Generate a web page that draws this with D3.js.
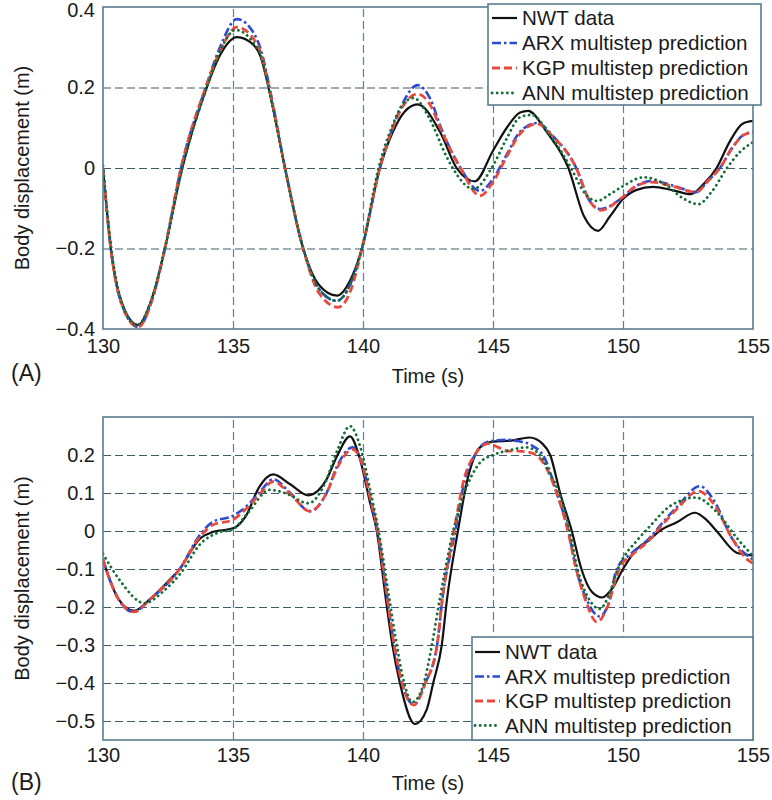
<!DOCTYPE html>
<html lang="en">
<head>
<meta charset="UTF-8">
<title>Body displacement - multistep prediction</title>
<script src="https://d3js.org/d3.v7.min.js"></script>
<style>
body { margin: 0; background: #fff; }
svg text { font-family: "Liberation Sans", Arial, Helvetica, sans-serif; fill: #1a1a1a; }
.tick text { font-size: 20px; }
.hgrid line { stroke: #3f5c68; stroke-dasharray: 8,4; stroke-width: 1.2; }
.vgrid line { stroke: #4a86aa; stroke-dasharray: 8,4; stroke-width: 1.2; }
.frame { fill: none; stroke: #587d8e; stroke-width: 1.6; }
.legend rect { fill: #fff; stroke: #587d8e; stroke-width: 1.6; }
</style>
</head>
<body>
<svg id="chart" width="772" height="800"></svg>
<script>
// ---------- data (time in s, displacement in m) ----------
var seriesNames = ["NWT data", "ARX multistep prediction", "KGP multistep prediction", "ANN multistep prediction"];
var xTicks = [130, 135, 140, 145, 150, 155];
var yTicksA = [0.4, 0.2, 0, -0.2, -0.4];
var yTicksB = [0.2, 0.1, 0, -0.1, -0.2, -0.3, -0.4, -0.5];

// panel (A)
var nwtA = [[130,0],[130.3,-0.2],[130.7,-0.33],[131.35,-0.39],[131.9,-0.32],[132.38,-0.2],[133.05,0],[133.99,0.2],[134.5,0.28],[135.15,0.325],
  [135.8,0.305],[136.04,0.28],[136.5,0.16],[137.0,0],[137.7,-0.2],[138.3,-0.29],[139.0,-0.317],[139.5,-0.28],[139.96,-0.2],[140.65,0],
  [141.15,0.09],[141.6,0.14],[142.1,0.158],[142.96,0.09],[143.6,0],[144.3,-0.033],[145.0,0.043],[145.53,0.1],[146.04,0.138],[146.35,0.142],
  [147.07,0.089],[147.9,0],[148.5,-0.12],[149.04,-0.156],[149.5,-0.12],[150.0,-0.077],[150.5,-0.055],[151.15,-0.047],[151.9,-0.055],[152.6,-0.065],
  [153.1,-0.04],[153.6,0],[154.1,0.065],[154.6,0.11],[155,0.117]];
var arxA = [[130,0],[130.3,-0.2],[130.7,-0.335],[131.35,-0.395],[131.9,-0.325],[132.38,-0.2],[133.0,0],[133.95,0.2],[134.5,0.3],[135.15,0.37],
  [135.8,0.335],[136.04,0.3],[136.5,0.17],[137.0,0],[137.7,-0.2],[138.3,-0.3],[139.0,-0.33],[139.5,-0.29],[139.96,-0.2],[140.65,0],
  [141.15,0.1],[141.6,0.17],[142.1,0.206],[142.6,0.17],[143.0,0.1],[143.75,0],[144.5,-0.057],[145.0,-0.027],[145.5,0.03],[146.04,0.09],
  [146.7,0.112],[147.3,0.08],[148.2,0],[148.7,-0.08],[149.15,-0.102],[149.9,-0.077],[150.5,-0.045],[151.1,-0.032],[152.0,-0.045],[152.8,-0.06],
  [153.3,-0.03],[153.73,0],[154.2,0.05],[154.7,0.085],[155,0.089]];
var kgpA = [[130,0],[130.3,-0.2],[130.7,-0.335],[131.35,-0.395],[131.9,-0.325],[132.38,-0.2],[133.0,0],[133.95,0.2],[134.5,0.29],[135.15,0.35],
  [135.8,0.32],[136.04,0.29],[136.5,0.165],[137.0,0],[137.7,-0.2],[138.3,-0.31],[139.05,-0.346],[139.55,-0.3],[139.96,-0.2],[140.65,0],
  [141.15,0.1],[141.6,0.16],[142.1,0.184],[142.6,0.155],[143.0,0.095],[143.75,0],[144.5,-0.069],[145.0,-0.035],[145.5,0.025],[146.04,0.085],
  [146.7,0.11],[147.3,0.078],[148.2,0],[148.7,-0.08],[149.15,-0.105],[149.9,-0.077],[150.5,-0.045],[151.1,-0.035],[152.0,-0.047],[152.8,-0.06],
  [153.3,-0.03],[153.73,0],[154.2,0.05],[154.7,0.084],[155,0.088]];
var annA = [[130,0.005],[130.3,-0.19],[130.7,-0.33],[131.3,-0.39],[131.9,-0.32],[132.38,-0.2],[133.05,0],[133.99,0.2],[134.5,0.29],[135.1,0.343],
  [135.8,0.31],[136.04,0.285],[136.5,0.16],[137.0,0],[137.7,-0.2],[138.3,-0.3],[139.0,-0.33],[139.5,-0.29],[139.96,-0.2],[140.6,0],
  [141.1,0.1],[141.5,0.155],[141.95,0.174],[142.5,0.13],[143.2,0.03],[143.45,0],[144.25,-0.052],[145.0,0.006],[145.5,0.07],[146.04,0.126],
  [146.5,0.132],[147.1,0.09],[148.0,0],[148.5,-0.06],[149.0,-0.082],[149.5,-0.065],[150.0,-0.045],[150.8,-0.023],[151.6,-0.04],[152.3,-0.075],
  [152.9,-0.09],[153.4,-0.06],[154.0,0],[154.5,0.04],[155,0.064]];

// panel (B)
var nwtB = [[130,-0.075],[130.27,-0.13],[130.6,-0.18],[131.2,-0.21],[131.8,-0.18],[132.4,-0.14],[132.95,-0.1],[133.73,-0.02],[134.2,-0.003],[135.0,0.007],
  [135.5,0.04],[136.0,0.115],[136.55,0.149],[137.2,0.123],[137.9,0.094],[138.6,0.136],[139.0,0.197],[139.5,0.249],[139.88,0.19],[140.27,0.075],
  [140.53,0],[140.88,-0.18],[141.13,-0.3],[141.42,-0.4],[142.0,-0.508],[142.45,-0.47],[142.7,-0.4],[143.03,-0.3],[143.23,-0.18],[143.65,0],
  [144.0,0.13],[144.5,0.22],[145.0,0.235],[145.7,0.238],[146.4,0.246],[146.9,0.23],[147.2,0.2],[147.58,0.1],[148.03,0],[148.4,-0.1],
  [148.8,-0.16],[149.2,-0.175],[149.6,-0.15],[150.0,-0.1],[150.5,-0.05],[151.04,-0.022],[151.4,0],[152.07,0.023],[152.77,0.048],[153.2,0.03],
  [153.6,0],[154.37,-0.057],[154.8,-0.063],[155,-0.065]];
var arxB = [[130,-0.075],[130.27,-0.13],[130.6,-0.18],[131.17,-0.213],[131.8,-0.18],[132.95,-0.1],[133.73,-0.01],[134.2,0.023],[135.0,0.04],[135.6,0.07],
  [136.0,0.1],[136.55,0.136],[137.2,0.1],[137.96,0.052],[138.6,0.1],[139.0,0.17],[139.6,0.22],[139.95,0.18],[140.3,0.08],[140.55,0],
  [140.9,-0.16],[141.15,-0.28],[141.5,-0.4],[141.95,-0.456],[142.4,-0.4],[142.85,-0.3],[143.05,-0.18],[143.55,0],[143.9,0.13],[144.3,0.2],
  [144.8,0.235],[145.5,0.24],[146.0,0.236],[146.5,0.225],[147.0,0.19],[147.45,0.1],[147.9,0],[148.2,-0.1],[148.6,-0.18],[149.1,-0.225],
  [149.45,-0.19],[149.76,-0.1],[150.3,-0.06],[151.0,-0.02],[151.5,0.02],[152.1,0.065],[152.96,0.118],[153.5,0.08],[154.2,-0.02],[154.7,-0.06],[155,-0.075]];
var kgpB = [[130,-0.075],[130.27,-0.13],[130.6,-0.18],[131.2,-0.213],[131.8,-0.18],[132.95,-0.1],[133.73,-0.015],[134.2,0.015],[135.0,0.03],[135.6,0.065],
  [136.0,0.095],[136.55,0.13],[137.2,0.097],[137.96,0.052],[138.6,0.1],[139.0,0.165],[139.6,0.215],[139.95,0.18],[140.3,0.08],[140.57,0],
  [140.9,-0.16],[141.15,-0.28],[141.5,-0.4],[141.95,-0.458],[142.4,-0.4],[142.85,-0.3],[143.05,-0.18],[143.5,0],[143.9,0.14],[144.3,0.2],
  [144.8,0.23],[145.2,0.22],[145.6,0.21],[146.0,0.21],[146.5,0.205],[146.93,0.18],[147.45,0.1],[147.88,0],[148.2,-0.1],[148.6,-0.19],
  [149.0,-0.24],[149.4,-0.2],[149.85,-0.1],[150.4,-0.06],[151.0,-0.025],[151.5,0.015],[152.1,0.06],[152.9,0.105],[153.5,0.07],[154.2,-0.02],
  [154.7,-0.07],[155,-0.085]];
var annB = [[130,-0.06],[130.65,-0.13],[131.6,-0.19],[132.3,-0.16],[133.0,-0.11],[133.73,-0.035],[134.4,-0.005],[135.0,0.005],[135.6,0.05],[136.4,0.108],
  [137.0,0.1],[137.9,0.073],[138.5,0.12],[139.0,0.21],[139.5,0.276],[139.9,0.22],[140.3,0.1],[140.6,0],[140.95,-0.15],[141.25,-0.28],
  [141.55,-0.39],[141.9,-0.45],[142.3,-0.41],[142.65,-0.3],[142.95,-0.18],[143.47,0],[143.9,0.1],[144.5,0.18],[145.0,0.2],[145.6,0.212],
  [146.3,0.22],[146.8,0.2],[147.2,0.15],[147.55,0.1],[147.95,0],[148.25,-0.1],[148.7,-0.18],[149.1,-0.205],[149.45,-0.17],[149.8,-0.1],
  [150.6,-0.02],[151.0,0.01],[151.8,0.065],[152.8,0.088],[153.6,0.05],[154.4,-0.02],[155,-0.066]];

// ---------- drawing ----------
var svg = d3.select("#chart");
var styles = [
  {color: "#111111", width: 2.2, dash: null, cap: "butt"},
  {color: "#2a4bd2", width: 2.6, dash: "9,3,2.5,3", cap: "butt"},
  {color: "#e84b3c", width: 2.8, dash: "8,4", cap: "butt"},
  {color: "#146f37", width: 2.8, dash: "0.1,5", cap: "round"}
];
var left = 103, right = 753;

function fmt(d) { return d < 0 ? "\u2212" + Math.abs(d) : String(d); }

function drawPanel(p) {
  var x = d3.scaleLinear().domain([130, 155]).range([left, right]);
  var y = d3.scaleLinear().domain(p.yDomain).range([p.bottom, p.top]);
  var g = svg.append("g");

  //clip
  g.append("clipPath").attr("id", "clip" + p.id)
    .append("rect").attr("x", left).attr("y", p.top)
    .attr("width", right - left).attr("height", p.bottom - p.top);

  //grid
  g.append("g").attr("class", "hgrid")
    .attr("transform", "translate(" + left + ",0)")
    .call(d3.axisLeft(y).tickValues(p.yTicks.filter(function(d) { return d > p.yDomain[0] && d < p.yDomain[1]; }))
      .tickSize(-(right - left)).tickFormat(""))
    .call(function(s) { s.select(".domain").remove(); });
  g.append("g").attr("class", "vgrid")
    .attr("transform", "translate(0," + p.bottom + ")")
    .call(d3.axisBottom(x).tickValues(xTicks.slice(1, -1)).tickSize(-(p.bottom - p.top)).tickFormat(""))
    .call(function(s) { s.select(".domain").remove(); });

  //tick labels
  g.append("g").attr("transform", "translate(" + left + ",0)")
    .call(d3.axisLeft(y).tickValues(p.yTicks).tickSize(0).tickPadding(8).tickFormat(fmt))
    .call(function(s) {
      s.select(".domain").remove();
      s.selectAll("text").attr("font-family", null).attr("font-size", null)
        .attr("dy", function(d) { return y(d) < 12 ? "0.45em" : "0.32em"; });
    });
  g.append("g").attr("transform", "translate(0," + p.bottom + ")")
    .call(d3.axisBottom(x).tickValues(xTicks).tickSize(0).tickPadding(p.xPad).tickFormat(d3.format("d")))
    .call(function(s) { s.select(".domain").remove(); s.selectAll("text").attr("font-family", null).attr("font-size", null); });

  //lines
  var line = d3.line().curve(d3.curveMonotoneX)
    .x(function(d) { return x(d[0]); })
    .y(function(d) { return y(d[1]); });
  var lines = g.append("g").attr("clip-path", "url(#clip" + p.id + ")");
  p.series.forEach(function(s, i) {
    lines.append("path").datum(s)
      .attr("d", line)
      .attr("fill", "none")
      .attr("stroke", styles[i].color)
      .attr("stroke-width", styles[i].width)
      .attr("stroke-dasharray", styles[i].dash)
      .attr("stroke-linecap", styles[i].cap);
  });

  //frame
  g.append("rect").attr("class", "frame")
    .attr("x", left).attr("y", p.top)
    .attr("width", right - left).attr("height", p.bottom - p.top);

  //axis labels
  g.append("text")
    .attr("transform", "translate(29," + ((p.top + p.bottom) / 2) + ") rotate(-90)")
    .attr("text-anchor", "middle").attr("font-size", 20)
    .text("Body displacement (m)");
  g.append("text")
    .attr("x", (left + right) / 2).attr("y", p.xLabelY)
    .attr("text-anchor", "middle").attr("font-size", 20)
    .text("Time (s)");
  g.append("text")
    .attr("x", 11).attr("y", p.panelY)
    .attr("font-size", 23)
    .text(p.label);

  //legend
  var lg = g.append("g").attr("class", "legend")
    .attr("transform", "translate(" + p.legend.x + "," + p.legend.y + ")");
  lg.append("rect").attr("width", p.legend.w).attr("height", p.legend.h);
  seriesNames.forEach(function(name, i) {
    var ry = p.legend.firstRow + i * p.legend.step;
    lg.append("line")
      .attr("x1", p.legend.lineX).attr("x2", p.legend.lineX + 25)
      .attr("y1", ry).attr("y2", ry)
      .attr("stroke", styles[i].color)
      .attr("stroke-width", styles[i].width)
      .attr("stroke-dasharray", styles[i].dash)
      .attr("stroke-linecap", styles[i].cap);
    lg.append("text")
      .attr("x", p.legend.textX).attr("y", ry).attr("dy", "0.35em")
      .attr("font-size", 20.6)
      .text(name);
  });
}

drawPanel({
  id: "A", label: "(A)", top: 7, bottom: 329, yDomain: [-0.4, 0.4], yTicks: yTicksA,
  xPad: 10, xLabelY: 383, panelY: 381,
  series: [nwtA, arxA, kgpA, annA],
  legend: {x: 488, y: 4, w: 273, h: 101, firstRow: 14, step: 25, lineX: 4, textX: 34}
});
drawPanel({
  id: "B", label: "(B)", top: 417, bottom: 740, yDomain: [-0.55, 0.3], yTicks: yTicksB,
  xPad: 8, xLabelY: 790, panelY: 790,
  series: [nwtB, arxB, kgpB, annB],
  legend: {x: 472, y: 637, w: 281, h: 103, firstRow: 15, step: 24.5, lineX: 3, textX: 33}
});
</script>
</body>
</html>
